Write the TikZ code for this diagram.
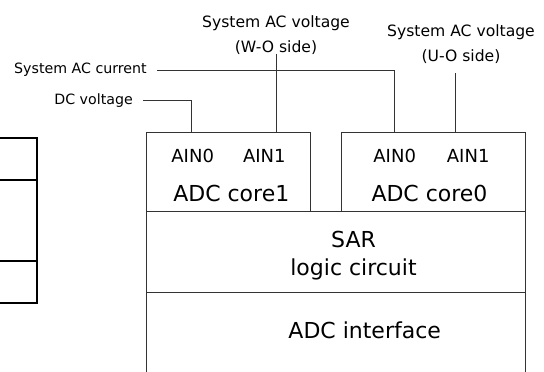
\documentclass[tikz,border=0pt]{standalone}
\usepackage{fontspec}
\setmainfont{DejaVu Sans}
\begin{document}
\begin{tikzpicture}[x=1pt,y=-1pt,
  blk/.style={draw=black!80,line width=0.9pt,inner sep=0pt},
  wire/.style={draw=black!80,line width=0.9pt},
  sig/.style={font=\fontsize{14.2}{17}\selectfont,anchor=east,inner xsep=10pt,inner ysep=0pt,text height=10.4pt,text depth=3.8pt},
  vlt/.style={font=\fontsize{15.6}{25}\selectfont,align=center,anchor=south,inner sep=0pt},
  ain/.style={font=\fontsize{18}{21}\selectfont,anchor=base,inner sep=0pt},
  big/.style={font=\fontsize{22}{27.7}\selectfont,inner sep=0pt}]
\useasboundingbox (0,0) rectangle (544,372);
\clip (0,0) rectangle (544,372);
% cut-off block on the left
\draw[line width=2pt] (-5,138.3) rectangle (36.7,302.7);
\draw[line width=2pt] (-5,179.7) -- (36.7,179.7);
\draw[line width=2pt] (-5,261) -- (36.7,261);
% ADC cores
\node[blk,minimum width=163.6pt,minimum height=79.4pt] (core1) at (228.5,172) {};
\node[blk,minimum width=184pt,minimum height=79.4pt] (core0) at (433,172) {};
% SAR and interface
\node[blk,minimum width=378.3pt,minimum height=80.8pt] (sar) at (335.85,252.1) {};
\node[blk,minimum width=378.3pt,minimum height=107.5pt] (iface) at (335.85,346.25) {};
% inputs on the cores
\coordinate (c1a) at (191.7,132.3);
\coordinate (c1b) at (276,132.3);
\coordinate (c0a) at (394.3,132.3);
\coordinate (c0b) at (455,132.3);
% signal labels
\node[sig] (dcv) at (143,100.7) {DC voltage};
\node[sig] (acc) at (157,70) {System AC current};
\node[vlt] (wov) at (276,54.4) {System AC voltage\\(W-O side)};
\node[vlt] (uov) at (461,64.2) {System AC voltage\\(U-O side)};
% wires
\draw[wire] (dcv.east) -| (c1a);
\draw[wire] (acc.east) -| (c0a);
\draw[wire] (wov.south) -- (c1b);
\draw[wire,shorten <=9pt] (uov.south -| c0b) -- (c0b);
% texts in the blocks
\node[ain] (c1in0) at (192.7,162) {AIN0};
\node[ain] (c1in1) at (264.3,162) {AIN1};
\node[ain] (c0in0) at (394.7,162) {AIN0};
\node[ain] (c0in1) at (468.2,162) {AIN1};
\node[big,anchor=base] (c1txt) at (231.3,201) {ADC core1};
\node[big,anchor=base] (c0txt) at (429.5,201) {ADC core0};
\node[big,align=center,anchor=south] (sartxt) at (353.5,280.2) {SAR\\logic circuit};
\node[big,anchor=base] (iftxt) at (364.7,338.3) {ADC interface};
\end{tikzpicture}
\end{document}
